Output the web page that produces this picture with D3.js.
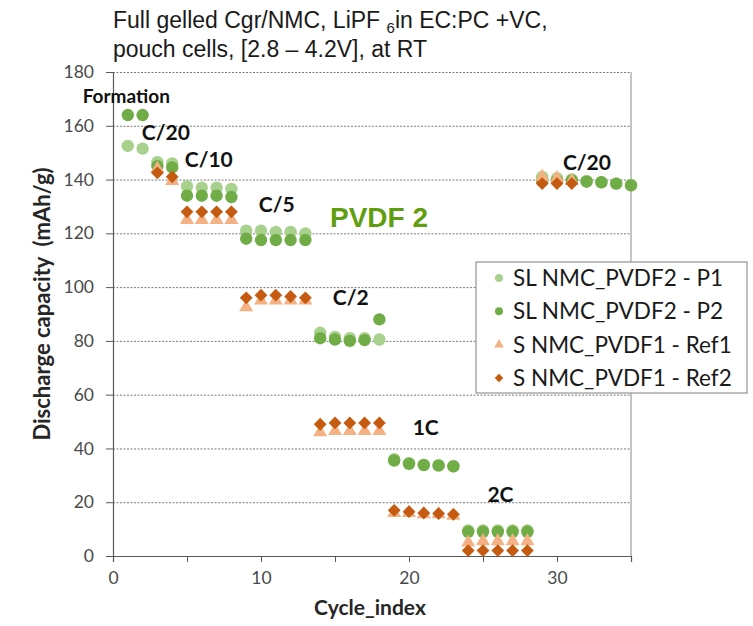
<!DOCTYPE html>
<html>
<head>
<meta charset="utf-8">
<script src="https://cdn.jsdelivr.net/npm/d3@7"></script>
<style>
  body { margin: 0; background: #fff; }
  svg { display: block; }
</style>
</head>
<body>
<div id="chart"></div>
<script>
// ---- data ----
const cyclesAll = d3.range(1, 36);          // 1..35
const cyclesRef = d3.range(3, 32);          // 3..31

const p1Values = [152.5, 151.5, 146.5, 146, 137.5, 137, 137, 136.5,
  121, 121, 120.5, 120.5, 120, 83, 81.5, 81, 81, 80.5,
  36, 34.5, 34, 33.8, 33.5, 9.5, 9.5, 9.5, 9.5, 9.5,
  141, 140.5, 140, 139.5, 139, 138.5, 138];

const p2Values = [164, 164, 145, 144.5, 134, 134, 134, 133.5,
  118, 117.5, 117.5, 117.5, 117.5, 81, 80.5, 80, 80.3, 88,
  35.5, 34.3, 33.8, 33.6, 33.3, 9, 9, 9, 9, 9,
  139.5, 139.5, 139.7, 139.2, 139, 138.5, 137.8];

const ref1Values = [144, 139.5, 125, 125, 125, 125,
  92.5, 95, 95, 95, 95, 46, 46.5, 46.5, 46.5, 46.5,
  16, 16, 15.5, 15.5, 15, 5, 5.5, 5.5, 5.5, 5.5,
  141, 140.5, 139.5];

const ref2Values = [142.5, 141, 128, 128, 128, 128,
  96, 97, 97, 96.5, 96, 49, 49.5, 49.5, 49.5, 49.5,
  17, 16.5, 16, 15.8, 15.5, 2, 2, 2, 2, 2,
  138.5, 138.5, 138.5];

const seriesNames = ["SL NMC_PVDF2 - P1", "SL NMC_PVDF2 - P2", "S NMC_PVDF1 - Ref1", "S NMC_PVDF1 - Ref2"];
const seriesColors = ["#a9d18e", "#70ad47", "#f4b183", "#c55a11"];
const seriesShapes = ["circle", "circle", "triangle", "diamond"];

const yTicks = [0, 20, 40, 60, 80, 100, 120, 140, 160, 180];
const xTicks = [0, 5, 10, 15, 20, 25, 30, 35];
const xLabels = [0, 10, 20, 30];

// rate annotations: text, cycle, capacity (text baseline)
const noteTexts = ["Formation", "C/20", "C/10", "C/5", "C/2", "1C", "2C", "C/20"];
const noteCycles = [-2.05, 1.95, 4.85, 9.85, 14.85, 20.25, 25.3, 30.4];
const noteCaps = [168.5, 154.7, 144.7, 127.9, 93.3, 45, 20.2, 143.5];

// ---- layout ----
const W = 753, H = 626;
const margin = { top: 72, right: 122, bottom: 70, left: 113 };
const width = W - margin.left - margin.right;
const height = H - margin.top - margin.bottom;

const svg = d3.select("#chart").append("svg")
  .attr("width", W).attr("height", H);

const g = svg.append("g")
  .attr("transform", `translate(${margin.left},${margin.top})`);

const x = d3.scaleLinear().domain([0, 35]).range([0, width]);
const y = d3.scaleLinear().domain([0, 180]).range([height, 0]);

const calibri = "Lato, 'Open Sans', sans-serif";
const arial = "'Liberation Sans', Arial, sans-serif";

// title
const title = svg.append("text")
  .attr("x", 113).attr("y", 28)
  .attr("font-family", arial)
  .attr("font-size", 23).attr("fill", "#1a1a1a");
title.append("tspan").text("Full gelled Cgr/NMC, LiPF ");
title.append("tspan").attr("font-size", 15).attr("dy", 5).text("6");
title.append("tspan").attr("dy", -5).text("in EC:PC +VC,");
svg.append("text")
  .attr("x", 113).attr("y", 57)
  .attr("font-family", arial)
  .attr("font-size", 23).attr("fill", "#1a1a1a")
  .text("pouch cells, [2.8 \u2013 4.2V], at RT");

// gridlines
const grid = g.append("g")
  .call(d3.axisLeft(y).tickValues(yTicks.filter(d => d > 0)).tickSize(-width).tickFormat(""));
grid.select(".domain").remove();
grid.selectAll(".tick line")
  .attr("stroke", "#7a7a7a")
  .attr("stroke-dasharray", "2,1.5");

// right frame line
g.append("line")
  .attr("x1", width).attr("x2", width)
  .attr("y1", 0).attr("y2", height)
  .attr("stroke", "#8a8a8a");

// y axis
const yAxis = g.append("g")
  .call(d3.axisLeft(y).tickValues(yTicks).tickSize(7).tickPadding(12));
yAxis.select(".domain").attr("stroke", "#595959").attr("stroke-width", 1.2);
yAxis.selectAll(".tick line").attr("stroke", "#595959");
yAxis.selectAll("text")
  .attr("font-family", calibri).attr("font-size", 17.5).attr("fill", "#4a4a4a");

// x axis
const xAxis = g.append("g")
  .attr("transform", `translate(0,${height})`)
  .call(d3.axisBottom(x).tickValues(xTicks).tickSize(6).tickPadding(10)
    .tickFormat(d => xLabels.includes(d) ? d : ""));
xAxis.select(".domain").attr("stroke", "#595959").attr("stroke-width", 1.2);
xAxis.selectAll(".tick line").attr("stroke", "#595959");
xAxis.selectAll("text")
  .attr("font-family", calibri).attr("font-size", 17.5).attr("fill", "#4a4a4a");

// axis titles
svg.append("text")
  .attr("transform", "translate(50,304) rotate(-90)")
  .attr("text-anchor", "middle")
  .attr("font-family", calibri).attr("font-weight", "bold")
  .attr("font-size", 22).attr("fill", "#262626")
  .style("white-space", "pre")
  .text("Discharge capacity  (mAh/g)");

svg.append("text")
  .attr("x", 370).attr("y", 615)
  .attr("text-anchor", "middle")
  .attr("font-family", calibri).attr("font-weight", "bold")
  .attr("font-size", 21).attr("fill", "#262626")
  .text("Cycle_index");

// markers
const triangle = d3.symbol().type(d3.symbolTriangle).size(85);
const diamond = d3.symbol().type(d3.symbolSquare).size(82);

function drawSeries(cycles, values, i) {
  const pts = cycles.map((c, k) => ({ c, v: values[k] }));
  const layer = g.append("g");
  if (seriesShapes[i] === "circle") {
    layer.selectAll("circle").data(pts).enter().append("circle")
      .attr("cx", d => x(d.c)).attr("cy", d => y(d.v))
      .attr("r", 6.2).attr("fill", seriesColors[i]);
  } else {
    const isTri = seriesShapes[i] === "triangle";
    layer.selectAll("path").data(pts).enter().append("path")
      .attr("d", isTri ? triangle : diamond)
      .attr("transform", d => `translate(${x(d.c)},${y(d.v)})` + (isTri ? "" : " rotate(45)"))
      .attr("fill", seriesColors[i]);
  }
}
drawSeries(cyclesAll, p1Values, 0);
drawSeries(cyclesAll, p2Values, 1);
drawSeries(cyclesRef, ref1Values, 2);
drawSeries(cyclesRef, ref2Values, 3);

// annotations
noteTexts.forEach((t, i) => {
  g.append("text")
    .attr("x", x(noteCycles[i])).attr("y", y(noteCaps[i]))
    .attr("font-family", calibri).attr("font-weight", "bold")
    .attr("font-size", t === "Formation" ? 19 : 21)
    .attr("fill", "#111")
    .text(t);
});

g.append("text")
  .attr("x", x(14.66)).attr("y", y(122.3))
  .attr("font-family", arial)
  .attr("font-weight", "bold").attr("font-size", 28)
  .attr("fill", "#5f9e0f")
  .text("PVDF 2");

// legend
const legend = svg.append("g").attr("transform", "translate(476,262)");
legend.append("rect")
  .attr("width", 271).attr("height", 131)
  .attr("fill", "#fff").attr("stroke", "#7f7f7f");
seriesNames.forEach((name, i) => {
  const row = legend.append("g").attr("transform", `translate(23,${16 + i * 33.3})`);
  if (seriesShapes[i] === "circle") {
    row.append("circle").attr("r", 4).attr("fill", seriesColors[i]);
  } else if (seriesShapes[i] === "triangle") {
    row.append("path")
      .attr("d", d3.symbol().type(d3.symbolTriangle).size(40))
      .attr("fill", seriesColors[i]);
  } else {
    row.append("path")
      .attr("d", d3.symbol().type(d3.symbolSquare).size(36))
      .attr("transform", "rotate(45)")
      .attr("fill", seriesColors[i]);
  }
  row.append("text")
    .attr("x", 14).attr("y", 8)
    .attr("font-family", calibri).attr("font-size", 22.5)
    .attr("fill", "#1a1a1a")
    .text(name);
});
</script>
</body>
</html>
